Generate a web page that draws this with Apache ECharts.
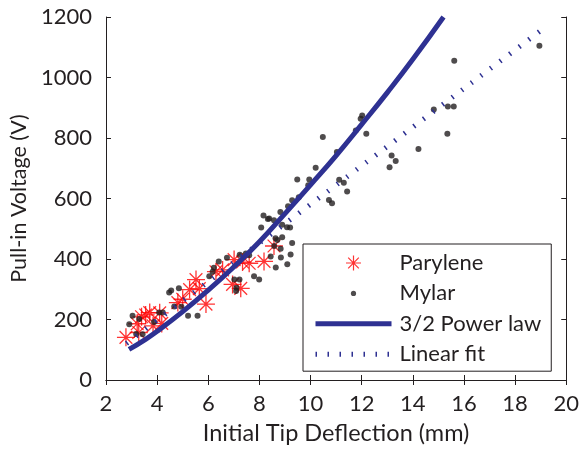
<!DOCTYPE html>
<html><head><meta charset="utf-8">
<script src="https://cdn.jsdelivr.net/npm/echarts@6/dist/echarts.min.js"></script>
<style>html,body{margin:0;padding:0;background:#fff}#c{width:582px;height:450px}</style>
</head><body><div id="c"></div>
<script>
// ---- data ----
const paryleneX = [2.78,3.28,3.39,3.55,3.71,4.10,3.84,4.18,3.22,4.81,5.00,5.27,5.52,5.65,5.91,6.30,6.56,7.01,7.60,8.18,6.95,7.27,8.57,7.34];
const paryleneV = [141,157,209,215,223,222,179,187,186,256,267,299,332,302,251,358,364,398,386,392,316,303,443,390];

const mylarX = [18.95,15.62,14.82,15.37,15.60,15.35,14.22,13.17,13.33,13.09,12.02,11.96,11.77,12.18,11.12,11.30,11.43,11.03,10.48,10.20,9.48,9.95,9.91,9.28,9.54,10.72,10.84,9.12,8.82,8.16,8.33,8.57,8.07,9.08,9.20,8.89,8.70,9.28,8.58,8.83,9.22,8.44,8.84,9.09,8.64,7.47,7.60,7.23,6.73,6.41,6.22,6.17,6.04,7.02,7.22,7.79,7.99,7.09,7.10,5.58,5.21,4.47,4.55,4.85,4.67,4.95,3.04,3.30,2.91,4.08,4.22,3.88,3.18,3.43,8.89,8.38,8.63];
const mylarV = [1105,1055,894,904,904,814,764,742,724,703,874,864,825,814,662,652,623,754,803,702,663,663,644,594,604,595,584,574,555,544,532,528,504,505,504,472,463,453,443,434,415,408,405,383,372,418,412,414,404,392,371,358,343,332,332,343,332,294,305,212,212,289,296,303,243,242,212,202,184,223,223,192,152,151,513,534,469];

const powerX = [2.9,3.5,4,5,6,7,8,9,10,11,12,13,14,15.2];
const powerV = [101,132,161,226,297,374,457,550,645,742,845,950,1060,1200];

const linearX = [2.8,19];
const linearV = [121,1155];

const xTicks = {min:2, max:20, step:2};
const yTicks = {min:0, max:1200, step:200};
const seriesNames = ['Parylene','Mylar','3/2 Power law','Linear fit'];

// ---- chart ----
const zip = (a,b)=>a.map((v,i)=>[v,b[i]]);
const FONT = 'Lato';
const INK = '#231f20';
const NAVY = '#2e3192';
const STAR = 'path://M0,-8L0,8M-8,0L8,0M-5.66,-5.66L5.66,5.66M-5.66,5.66L5.66,-5.66';
const DOT_ICON = 'path://M-7.5,-7.5L-7.5,-7.5M7.5,7.5L7.5,7.5M-2.6,0A2.6,2.6,0,1,0,2.6,0A2.6,2.6,0,1,0,-2.6,0Z';
const DASH = [1.5,10.5];

const chart = echarts.init(document.getElementById('c'), null, {renderer:'canvas'});
const axisCommon = {
  axisLine:{show:true, lineStyle:{color:INK, width:1}},
  axisTick:{show:true, inside:true, length:5, lineStyle:{color:INK, width:1}},
  splitLine:{show:false}
};
chart.setOption({
  animation:false,
  backgroundColor:'#fff',
  textStyle:{fontFamily:FONT},
  grid:{left:106, right:13, top:17, bottom:67, containLabel:false},
  xAxis:[
    Object.assign({type:'value', position:'bottom', min:xTicks.min, max:xTicks.max, interval:xTicks.step,
      name:'Initial Tip Deflection (mm)', nameLocation:'middle', nameGap:41,
      nameTextStyle:{fontFamily:FONT, fontSize:23.5, color:INK},
      axisLabel:{fontFamily:FONT, fontSize:22, color:INK, margin:13, formatter:v=>String(v)}}, axisCommon),
    Object.assign({type:'value', position:'top', min:xTicks.min, max:xTicks.max, interval:xTicks.step,
      axisLabel:{show:false}}, axisCommon)
  ],
  yAxis:[
    Object.assign({type:'value', position:'left', min:yTicks.min, max:yTicks.max, interval:yTicks.step,
      name:'Pull-in Voltage (V)', nameLocation:'middle', nameGap:76,
      nameTextStyle:{fontFamily:FONT, fontSize:21.5, color:INK},
      axisLabel:{fontFamily:FONT, fontSize:22, color:INK, margin:14, formatter:v=>String(v)}}, axisCommon),
    Object.assign({type:'value', position:'right', min:yTicks.min, max:yTicks.max, interval:yTicks.step,
      axisLabel:{show:false}}, axisCommon)
  ],
  legend:{
    left:303, top:244, orient:'vertical',
    itemWidth:76, itemHeight:15, itemGap:8.4,
    padding:[8,10,6,10],
    borderColor:INK, borderWidth:1, backgroundColor:'#fff',
    textStyle:{fontFamily:FONT, fontSize:22, color:INK, padding:[0,0,0,3]},
    data:[
      {name:seriesNames[0], icon:STAR, itemStyle:{color:'rgba(0,0,0,0)', borderColor:'#ff0000', borderWidth:1.2}},
      {name:seriesNames[1], icon:DOT_ICON, itemStyle:{color:INK, borderWidth:0}},
      {name:seriesNames[2], itemStyle:{opacity:0}, lineStyle:{color:NAVY, width:5, opacity:1}},
      {name:seriesNames[3], itemStyle:{opacity:0}, lineStyle:{color:NAVY, width:5, type:DASH, cap:'butt', opacity:1}}
    ]
  },
  series:[
    {name:seriesNames[0], type:'scatter', data:zip(paryleneX,paryleneV), symbol:STAR, symbolSize:18,
      itemStyle:{color:'rgba(0,0,0,0)', borderColor:'#ff0000', borderWidth:1.3}},
    {name:seriesNames[1], type:'scatter', data:zip(mylarX,mylarV), symbol:'circle', symbolSize:6,
      itemStyle:{color:INK}},
    {name:seriesNames[2], type:'line', data:zip(powerX,powerV), smooth:true, showSymbol:false, symbol:'none',
      lineStyle:{color:NAVY, width:5}, itemStyle:{color:NAVY}},
    {name:seriesNames[3], type:'line', data:zip(linearX,linearV), showSymbol:false, symbol:'none',
      lineStyle:{color:NAVY, width:5, type:DASH, cap:'butt'}, itemStyle:{color:NAVY}}
  ]
});
</script></body></html>
